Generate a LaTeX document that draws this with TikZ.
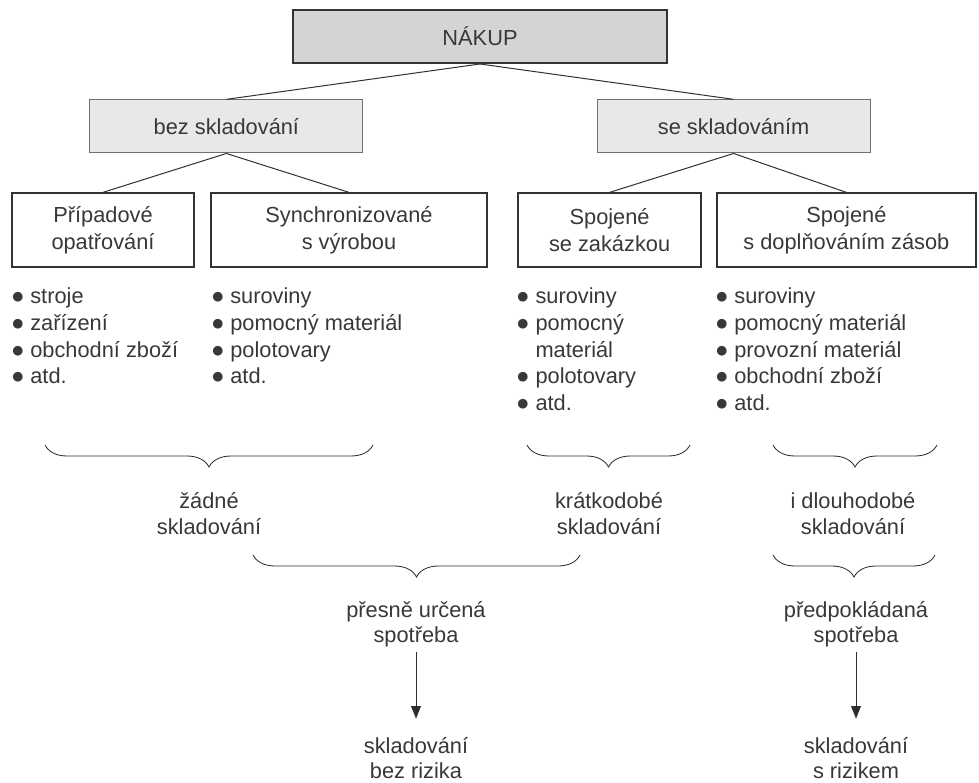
\documentclass[tikz,border=0pt]{standalone}
\usepackage{fontspec}
\setmainfont{Liberation Sans}
\newfontfamily\symfont{DejaVu Sans}
\usepackage{tikz}
\usetikzlibrary{decorations.pathreplacing, arrows.meta, positioning}

\definecolor{txtgray}{HTML}{383838}
\definecolor{boxdark}{HTML}{333333}
\definecolor{boxmid}{HTML}{707070}
\definecolor{topfill}{HTML}{D3D4D6}
\definecolor{midfill}{HTML}{E7E8E9}
\definecolor{linegray}{HTML}{2E2E2E}

\newcommand{\bl}{\raisebox{2pt}{\symfont\fontsize{9}{9}\selectfont ●}}

\begin{document}
\begin{tikzpicture}[
    every node/.style={text=txtgray, font=\fontsize{15.5}{19}\selectfont},
    topbox/.style={draw=boxdark, line width=1.4pt, fill=topfill, minimum width=9.35cm, minimum height=1.325cm},
    midbox/.style={draw=boxmid, line width=0.8pt, fill=midfill, minimum width=6.825cm, minimum height=1.325cm},
    lowbox/.style={draw=boxdark, line width=0.9pt, minimum height=1.85cm, align=center},
    txt/.style={align=center, font=\fontsize{15.5}{18}\selectfont},
    list/.style={anchor=base west, inner sep=0pt},
    bracedown/.style={decorate, decoration={brace, amplitude=0.55cm}, draw=linegray, line width=0.6pt},
    link/.style={draw=linegray, line width=0.7pt}
  ]
  \useasboundingbox (0,0) rectangle (24.475,-19.575);

  % top levels
  \draw (12,-0.9125) node[topbox] (nakup) {NÁKUP};
  \draw (5.66,-3.16) node[midbox] (bez) {bez skladování} (18.34,-3.16) node[midbox] (se) {se skladováním};
  \draw[link] (nakup.south) -- (bez.north) (nakup.south) -- (se.north);

  \draw (2.575,-5.75) node[lowbox, minimum width=4.55cm] (pripad) {Případové\\opatřování}
        (8.725,-5.75) node[lowbox, minimum width=6.9cm] (synchro) {Synchronizované\\s výrobou}
        (15.24,-5.75) node[lowbox, minimum width=4.575cm] (zakazka) {Spojené\\se zakázkou}
        (21.16,-5.75) node[lowbox, minimum width=6.475cm] (zasoby) {Spojené\\s doplňováním zásob};
  \draw[link] (bez.south) -- (pripad.north) (bez.south) -- (synchro.north);
  \draw[link] (se.south) -- (zakazka.north) (se.south) -- (zasoby.north);

  % lists
  \node[list] (L1) at (0.3,-7.59) {\begin{tabular}[t]{@{}l@{\hspace{5pt}}l@{}}
    \bl & stroje\\ \bl & zařízení\\ \bl & obchodní zboží\\ \bl & atd.\end{tabular}};
  \node[list] (L2) at (5.3,-7.59) {\begin{tabular}[t]{@{}l@{\hspace{5pt}}l@{}}
    \bl & suroviny\\ \bl & pomocný materiál\\ \bl & polotovary\\ \bl & atd.\end{tabular}};
  \node[list] (L3) at (12.93,-7.59) {\begin{tabular}[t]{@{}l@{\hspace{5pt}}l@{}}
    \bl & suroviny\\ \bl & pomocný\\ & materiál\\ \bl & polotovary\\ \bl & atd.\end{tabular}};
  \node[list] (L4) at (17.9,-7.59) {\begin{tabular}[t]{@{}l@{\hspace{5pt}}l@{}}
    \bl & suroviny\\ \bl & pomocný materiál\\ \bl & provozní materiál\\ \bl & obchodní zboží\\ \bl & atd.\end{tabular}};

  % braces
  \coordinate (b1l) at (1.125,-11.125); \coordinate (b1r) at (9.325,-11.125);
  \coordinate (b2l) at (13.175,-11.125); \coordinate (b2r) at (17.25,-11.125);
  \coordinate (b3l) at (19.325,-11.125); \coordinate (b3r) at (23.425,-11.125);
  \coordinate (b4l) at (6.325,-13.875); \coordinate (b4r) at (14.5,-13.875);
  \coordinate (b5l) at (19.325,-13.875); \coordinate (b5r) at (23.375,-13.875);
  \draw[bracedown] (b1r) -- (b1l);
  \draw[bracedown] (b2r) -- (b2l);
  \draw[bracedown] (b3r) -- (b3l);
  \draw[bracedown] (b4r) -- (b4l);
  \draw[bracedown] (b5r) -- (b5l);

  \draw (5.225,-12.84) node[txt] (zadne) {žádné\\skladování}
        (15.225,-12.84) node[txt] (kratko) {krátkodobé\\skladování}
        (21.325,-12.84) node[txt] (dlouho) {i dlouhodobé\\skladování};
  \draw (10.4,-15.61) node[txt] (presne) {přesně určená\\spotřeba}
        (21.4,-15.61) node[txt] (predpok) {předpokládaná\\spotřeba};
  \draw (10.4,-18.96) node[txt] (bezriz) {skladování\\bez rizika}
        (21.4,-18.96) node[txt] (sriz) {skladování\\s rizikem};

  \draw[link, -{Triangle[width=7pt,length=9pt]}, shorten >=0.35cm] (presne) -- (bezriz);
  \draw[link, -{Triangle[width=7pt,length=9pt]}, shorten >=0.35cm] (predpok) -- (sriz);
\end{tikzpicture}
\end{document}
